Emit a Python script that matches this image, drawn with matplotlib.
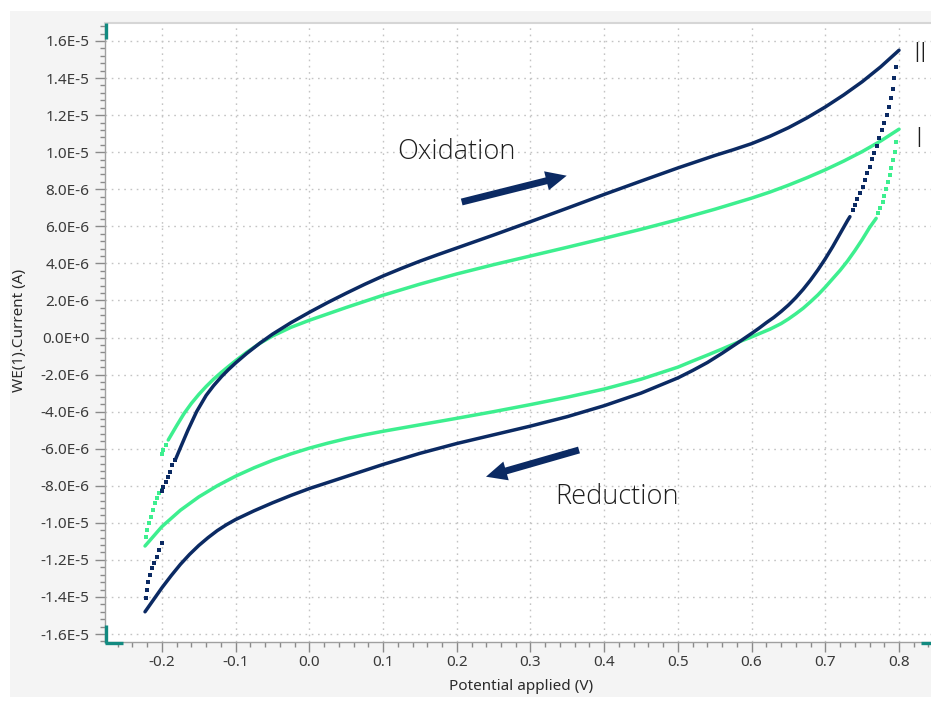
import numpy as np
import matplotlib
matplotlib.use("Agg")
import matplotlib.pyplot as plt
from matplotlib.patches import Rectangle, FancyArrowPatch
from matplotlib.lines import Line2D
from matplotlib.ticker import MultipleLocator

# ---------------- data (potential in V, current in µA) ----------------
# Curve II (navy)
ii_start_v = [-0.200, -0.198, -0.195, -0.192, -0.189, -0.186, -0.182]
ii_start_i = [-8.30, -8.05, -7.78, -7.51, -7.24, -6.90, -6.61]

ii_fwd_v = [-0.182, -0.175, -0.165, -0.153, -0.140, -0.130, -0.119, -0.110, -0.100,
            -0.085, -0.067, -0.050, -0.025, 0.000, 0.025, 0.050, 0.075, 0.100, 0.125,
            0.150, 0.175, 0.200, 0.250, 0.300, 0.350, 0.400, 0.450, 0.500, 0.550,
            0.575, 0.600, 0.625, 0.650, 0.675, 0.700, 0.725, 0.750, 0.775, 0.800]
ii_fwd_i = [-6.61, -5.95, -5.02, -4.00, -3.12, -2.60, -2.10, -1.74, -1.37,
            -0.86, -0.30, 0.18, 0.80, 1.36, 1.89, 2.39, 2.87, 3.32, 3.73,
            4.12, 4.48, 4.83, 5.53, 6.25, 6.98, 7.72, 8.44, 9.15, 9.82,
            10.13, 10.46, 10.86, 11.32, 11.85, 12.44, 13.09, 13.80, 14.60, 15.50]

ii_turn_v = [0.7955, 0.7936, 0.7913, 0.7887, 0.7863, 0.7833, 0.7796, 0.7765, 0.7733,
             0.7697, 0.7660, 0.7638, 0.7607, 0.7570, 0.7538, 0.7507, 0.7470, 0.7434,
             0.7402, 0.7371]
ii_turn_i = [14.61, 13.99, 13.41, 12.94, 12.46, 12.01, 11.59, 11.20, 10.75,
             10.33, 9.94, 9.62, 9.22, 8.86, 8.50, 8.14, 7.81, 7.46,
             7.15, 6.88]

ii_rev_v = [0.7334, 0.730, 0.720, 0.710, 0.700, 0.690, 0.680, 0.670, 0.660, 0.650,
            0.640, 0.630, 0.620, 0.610, 0.600, 0.590, 0.580, 0.560, 0.540, 0.520,
            0.500, 0.450, 0.400, 0.350, 0.300, 0.250, 0.200, 0.150, 0.100, 0.050,
            0.000, -0.025, -0.050, -0.075, -0.100, -0.1125, -0.125, -0.1375, -0.150,
            -0.1625, -0.175, -0.1875, -0.200, -0.2115, -0.223]
ii_rev_i = [6.52, 6.30, 5.60, 4.90, 4.25, 3.65, 3.10, 2.60, 2.15, 1.75,
            1.40, 1.08, 0.80, 0.50, 0.22, -0.05, -0.32, -0.85, -1.35, -1.78,
            -2.18, -3.00, -3.68, -4.27, -4.78, -5.25, -5.72, -6.25, -6.85, -7.50,
            -8.15, -8.52, -8.92, -9.35, -9.82, -10.10, -10.42, -10.80, -11.22,
            -11.70, -12.24, -12.85, -13.50, -14.15, -14.80]

ii_end_v = [-0.2221, -0.2208, -0.2186, -0.2163, -0.2132, -0.2104, -0.2072, -0.2037, -0.2004]
ii_end_i = [-14.07, -13.63, -13.18, -12.82, -12.46, -12.19, -11.83, -11.47, -11.11]

# Curve I (green)
i_start_v = [-0.200, -0.198, -0.195]
i_start_i = [-6.29, -6.07, -5.80]

i_fwd_v = [-0.1915, -0.180, -0.170, -0.160, -0.150, -0.140, -0.130, -0.120, -0.110,
           -0.100, -0.085, -0.067, -0.050, -0.025, 0.000, 0.050, 0.100, 0.150, 0.200,
           0.250, 0.300, 0.350, 0.400, 0.450, 0.500, 0.550, 0.600, 0.625, 0.650,
           0.675, 0.700, 0.725, 0.750, 0.775, 0.800]
i_fwd_i = [-5.53, -4.75, -4.10, -3.55, -3.07, -2.64, -2.25, -1.90, -1.57,
           -1.25, -0.80, -0.31, 0.08, 0.55, 0.93, 1.62, 2.28, 2.88, 3.43,
           3.93, 4.40, 4.87, 5.35, 5.84, 6.36, 6.92, 7.52, 7.85, 8.22,
           8.62, 9.05, 9.52, 10.03, 10.60, 11.24]

i_turn_v = [0.7960, 0.7940, 0.7918, 0.7895, 0.7873, 0.7850, 0.7828, 0.7803, 0.7777,
            0.7748, 0.7720]
i_turn_i = [10.57, 10.03, 9.60, 9.15, 8.76, 8.38, 8.02, 7.65, 7.30,
            6.98, 6.70]

i_rev_v = [0.769, 0.760, 0.750, 0.740, 0.730, 0.720, 0.710, 0.700, 0.690, 0.680,
           0.670, 0.660, 0.650, 0.640, 0.625, 0.610, 0.600, 0.580, 0.560, 0.540,
           0.520, 0.500, 0.450, 0.400, 0.350, 0.300, 0.250, 0.200, 0.150, 0.100,
           0.075, 0.050, 0.025, 0.000, -0.025, -0.050, -0.075, -0.100, -0.125,
           -0.150, -0.175, -0.200, -0.223]
i_rev_i = [6.43, 5.93, 5.28, 4.68, 4.12, 3.62, 3.17, 2.72, 2.30, 1.93,
           1.58, 1.28, 1.00, 0.75, 0.45, 0.20, 0.03, -0.28, -0.62, -0.95,
           -1.27, -1.60, -2.25, -2.78, -3.22, -3.62, -4.00, -4.36, -4.71, -5.06,
           -5.25, -5.46, -5.70, -5.97, -6.28, -6.63, -7.03, -7.48, -8.00,
           -8.60, -9.32, -10.20, -11.25]

i_end_v = [-0.2220, -0.2200, -0.2170, -0.2150, -0.2120, -0.2095, -0.2064, -0.2037, -0.2004]
i_end_i = [-10.75, -10.39, -10.03, -9.67, -9.31, -8.95, -8.68, -8.41, -8.23]

x_ticks = [-0.2, -0.1, 0.0, 0.1, 0.2, 0.3, 0.4, 0.5, 0.6, 0.7, 0.8]
x_tick_labels = ["-0.2", "-0.1", "0.0", "0.1", "0.2", "0.3", "0.4", "0.5", "0.6", "0.7", "0.8"]
y_ticks = [1.6e-5, 1.4e-5, 1.2e-5, 1.0e-5, 8e-6, 6e-6, 4e-6, 2e-6, 0.0,
           -2e-6, -4e-6, -6e-6, -8e-6, -1.0e-5, -1.2e-5, -1.4e-5, -1.6e-5]
y_tick_labels = ["1.6E-5", "1.4E-5", "1.2E-5", "1.0E-5", "8.0E-6", "6.0E-6", "4.0E-6",
                 "2.0E-6", "0.0E+0", "-2.0E-6", "-4.0E-6", "-6.0E-6", "-8.0E-6",
                 "-1.0E-5", "-1.2E-5", "-1.4E-5", "-1.6E-5"]

# ---------------- style ----------------
NAVY = "#0b2a63"
GREEN = "#3def8f"
TEAL = "#128a80"
TXT = "#1e1e1e"
plt.rcParams['font.family'] = ['Noto Sans', 'DejaVu Sans']
LIGHT_FONT = ['Open Sans', 'Noto Sans', 'DejaVu Sans']

W, H = 931, 702
fig = plt.figure(figsize=(W / 100, H / 100), dpi=100, facecolor="white")


def fx(px):
    return px / W


def fy(py):
    return 1 - py / H


fig.patches.append(Rectangle((fx(10), fy(697)), (W - 10) / W, (697 - 11) / H,
                             transform=fig.transFigure, facecolor="#f4f4f4",
                             edgecolor="none", zorder=-10))

ax = fig.add_axes([fx(105), fy(642), (W - 105) / W, (642 - 23) / H])
ax.set_facecolor("white")
ax.set_xlim(-0.2773, 0.8434)
ax.set_ylim(-16.43e-6, 16.97e-6)

for side in ("left", "bottom"):
    ax.spines[side].set_color("#a0a0a0")
    ax.spines[side].set_linewidth(1.0)
ax.spines["top"].set_color("#d6d6d6")
ax.spines["top"].set_linewidth(1.5)
ax.spines["right"].set_visible(False)

ax.set_xticks(x_ticks)
ax.set_xticklabels(x_tick_labels)
ax.set_yticks(y_ticks)
ax.set_yticklabels(y_tick_labels)
ax.xaxis.set_minor_locator(MultipleLocator(0.02))
ax.yaxis.set_minor_locator(MultipleLocator(0.4e-6))
ax.tick_params(which="major", direction="out", length=7, width=1, color="#8a8a8a",
               labelsize=11, labelcolor="#3a3a3a")
ax.tick_params(which="minor", direction="out", length=3.5, width=1, color="#8a8a8a")
ax.tick_params(axis="y", which="major", pad=4)
ax.tick_params(axis="x", which="major", pad=2.5)

ax.grid(True, which="major", color="#c4c4c4", linestyle=(0, (1.2, 3.3)), linewidth=1.0)
ax.set_axisbelow(True)


def ua(vals):
    return np.asarray(vals) * 1e-6


line_kw = dict(linewidth=2.5, solid_capstyle="round", solid_joinstyle="round")
dot_kw = dict(linestyle="none", marker="s", markersize=2.6, markeredgewidth=0)

# curve I
ax.plot(i_fwd_v, ua(i_fwd_i), color=GREEN, **line_kw)
ax.plot(i_rev_v, ua(i_rev_i), color=GREEN, **line_kw)
for v, c in ((i_start_v, i_start_i), (i_turn_v, i_turn_i), (i_end_v, i_end_i)):
    ax.plot(v, ua(c), color=GREEN, **dot_kw)

# curve II
ax.plot(ii_fwd_v, ua(ii_fwd_i), color=NAVY, **line_kw)
ax.plot(ii_rev_v, ua(ii_rev_i), color=NAVY, **line_kw)
for v, c in ((ii_start_v, ii_start_i), (ii_turn_v, ii_turn_i), (ii_end_v, ii_end_i)):
    ax.plot(v, ua(c), color=NAVY, **dot_kw)

# axis labels
fig.text(fx(20), fy(330), "WE(1).Current (A)", rotation=90, ha="center", va="center",
         fontsize=11, color="#2a2a2a")
fig.text(fx(521), fy(687), "Potential applied (V)", ha="center", va="center",
         fontsize=11, color="#2a2a2a")

# scan direction annotations
note_kw = dict(ha="center", va="center", fontsize=19.5, color=TXT,
               family=LIGHT_FONT, fontweight="light")
fig.text(fx(456), fy(152), "Oxidation", **note_kw)
fig.text(fx(617), fy(497), "Reduction", **note_kw)
fig.text(fx(920), fy(55), "II", **note_kw)
fig.text(fx(919), fy(140), "I", **note_kw)

arrow_style = "simple,head_length=1.5,head_width=1.4,tail_width=0.5"
for tail, tip in (((461.7, 202.0), (566.7, 175.7)), ((579.0, 450.0), (486.0, 476.7))):
    fig.add_artist(FancyArrowPatch(
        (tail[0], H - tail[1]), (tip[0], H - tip[1]), transform=None,
        arrowstyle=arrow_style, mutation_scale=10, color=NAVY, lw=0,
        shrinkA=0, shrinkB=0))

# corner handles of the plot frame
for (x0, y0), (x1, y1) in (((105.5, 23), (105.5, 39)),
                           ((105.5, 625), (105.5, 642.5)),
                           ((105, 642.5), (122.5, 642.5)),
                           ((921, 642.5), (931, 642.5))):
    fig.add_artist(Line2D([fx(x0), fx(x1)], [fy(y0), fy(y1)], transform=fig.transFigure,
                          color=TEAL, linewidth=2.4, solid_capstyle="butt"))

fig.savefig("out.png", dpi=100, facecolor=fig.get_facecolor())
